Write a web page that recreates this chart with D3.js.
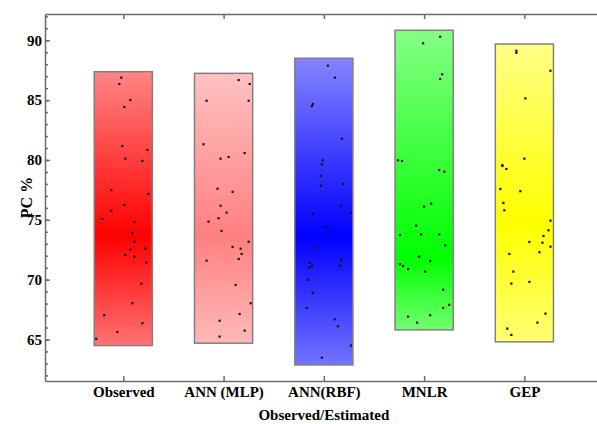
<!DOCTYPE html>
<html lang="en">
<head>
<meta charset="UTF-8">
<title>PC % observed vs estimated</title>
<script src="https://d3js.org/d3.v7.min.js"></script>
<style>
    body { margin: 0; background: #fff; }
    svg { display: block; }
    .axis path, .axis line { stroke: #6b6b6b; stroke-width: 1.5; fill: none; }
</style>
</head>
<body>
<svg width="597" height="424"></svg>
<script>
// categories and the range box drawn for each
const categories = ["Observed", "ANN (MLP)", "ANN(RBF)", "MNLR", "GEP"];
const rangeLow  = [64.49, 64.69, 62.87, 65.80, 64.80];
const rangeHigh = [87.38, 87.24, 88.50, 90.84, 89.69];

// PC % values, with horizontal jitter (in category units)
const pcObserved = [86.88, 86.35, 85.01, 84.43, 81.17, 80.84, 80.11, 79.92, 77.49, 77.16, 76.24, 75.76, 75.07, 74.82, 73.90, 73.17, 72.51, 72.59, 72.06, 71.92, 71.42, 69.67, 68.03, 67.03, 66.36, 65.63, 65.05];
const jitObserved = [-0.02, -0.04, 0.07, 0.01, -0.01, 0.24, 0.02, 0.19, -0.12, 0.25, 0.01, -0.12, -0.21, 0.11, 0.09, 0.11, 0.07, 0.22, 0.02, 0.11, 0.23, 0.18, 0.09, -0.19, 0.19, -0.06, -0.27];

const pcMLP = [86.68, 86.35, 84.95, 84.95, 81.31, 80.58, 80.25, 80.11, 77.60, 77.33, 76.18, 75.60, 75.13, 74.85, 74.07, 73.17, 72.73, 72.59, 72.15, 71.73, 71.59, 69.56, 68.03, 67.13, 66.57, 65.74, 65.24];
const jitMLP = [0.15, 0.26, -0.17, 0.25, -0.20, 0.21, 0.05, -0.03, -0.06, 0.09, -0.03, 0.03, -0.05, -0.15, -0.02, 0.25, 0.09, 0.17, 0.18, 0.15, -0.17, 0.12, 0.27, 0.16, -0.04, 0.21, -0.04];

const pcRBF = [87.88, 86.88, 84.68, 84.51, 81.78, 79.97, 79.64, 78.66, 77.99, 77.85, 76.18, 75.60, 75.51, 74.40, 72.65, 71.62, 71.42, 71.17, 71.14, 71.00, 70.00, 68.89, 67.64, 66.69, 66.11, 64.49, 63.48];
const jitRBF = [0.04, 0.11, -0.11, -0.12, 0.18, -0.01, -0.02, -0.03, 0.19, -0.03, 0.17, 0.27, -0.11, 0.02, -0.09, 0.17, -0.14, 0.16, -0.12, -0.15, -0.16, -0.11, -0.17, 0.11, 0.14, 0.27, -0.02];

const pcMNLR = [90.30, 89.75, 87.16, 86.77, 79.97, 79.92, 79.16, 79.02, 76.35, 76.10, 74.51, 73.73, 73.79, 73.79, 72.87, 71.92, 71.56, 71.29, 71.14, 70.89, 70.67, 69.16, 67.89, 67.64, 67.03, 66.91, 66.41];
const jitMNLR = [0.16, -0.01, 0.18, 0.16, -0.26, -0.22, 0.15, 0.20, 0.07, 0.00, -0.08, -0.24, -0.03, 0.15, 0.21, -0.05, 0.06, -0.24, -0.21, -0.16, 0.01, 0.19, 0.25, 0.19, 0.06, -0.16, -0.07];

const pcGEP = [89.13, 88.96, 87.46, 85.15, 80.11, 79.56, 79.50, 79.25, 77.58, 77.39, 76.41, 75.80, 74.93, 74.13, 73.65, 73.15, 73.09, 72.76, 72.29, 72.15, 70.67, 69.67, 69.81, 67.16, 66.41, 65.91, 65.38];
const jitGEP = [-0.08, -0.08, 0.26, 0.01, 0.00, -0.22, -0.22, -0.18, -0.24, -0.04, -0.21, -0.20, 0.26, 0.24, 0.19, 0.05, 0.18, 0.26, 0.15, -0.15, -0.11, -0.13, 0.05, 0.21, 0.13, -0.17, -0.13];

const yTicks = [65, 70, 75, 80, 85, 90];

// styling
const colors = ["#ff0000", "#ff8080", "#0000ff", "#00ff00", "#ffff00"];
const gradPeak = [0.6, 0.6, 0.58, 0.76, 0.6];
const boxHalf = 0.29;
const serif = '"Liberation Serif", "Times New Roman", serif';

const values = [pcObserved, pcMLP, pcRBF, pcMNLR, pcGEP];
const jitters = [jitObserved, jitMLP, jitRBF, jitMNLR, jitGEP];

const svg = d3.select("svg");
const plotL = 45, plotR = 602.7, plotT = 14, plotB = 381;

const x = d3.scaleLinear().domain([0.219, 5.781]).range([plotL, plotR]);
const y = d3.scaleLinear().domain([61.53, 92.2]).range([plotB, plotT]);

// gradients: pale at the ends, full colour near the middle
const defs = svg.append("defs");
colors.forEach((c, i) => {
    const g = defs.append("linearGradient")
        .attr("id", "grad" + i)
        .attr("x1", 0).attr("y1", 0).attr("x2", 0).attr("y2", 1);
    g.append("stop").attr("offset", 0).attr("stop-color", d3.interpolateRgb(c, "#fff")(0.52));
    g.append("stop").attr("offset", gradPeak[i]).attr("stop-color", c);
    g.append("stop").attr("offset", 1).attr("stop-color", d3.interpolateRgb(c, "#fff")(0.45));
});

// boxes
svg.selectAll(".box")
    .data(categories)
    .enter().append("rect")
    .attr("class", "box")
    .attr("x", (d, i) => x(i + 1 - boxHalf))
    .attr("y", (d, i) => y(rangeHigh[i]))
    .attr("width", (d, i) => x(i + 1 + boxHalf) - x(i + 1 - boxHalf))
    .attr("height", (d, i) => y(rangeLow[i]) - y(rangeHigh[i]))
    .attr("fill", (d, i) => "url(#grad" + i + ")")
    .attr("stroke", "#808080")
    .attr("stroke-width", 1.5);

// points
const pts = [];
values.forEach((arr, i) => arr.forEach((v, k) => pts.push({ cx: i + 1 + jitters[i][k], v: v })));
svg.selectAll(".pt")
    .data(pts)
    .enter().append("rect")
    .attr("class", "pt")
    .attr("x", d => x(d.cx) - 1.1)
    .attr("y", d => y(d.v) - 1.1)
    .attr("width", 2.2)
    .attr("height", 2.2)
    .attr("fill", "#111");

// minor y ticks
svg.append("g")
    .attr("class", "axis")
    .attr("transform", "translate(" + plotL + ",0)")
    .call(d3.axisLeft(y).tickValues(d3.range(62, 93)).tickSize(-3).tickFormat(""))
    .call(g => g.select(".domain").remove());

// y axis
svg.append("g")
    .attr("class", "axis")
    .attr("transform", "translate(" + plotL + ",0)")
    .call(d3.axisLeft(y).tickValues(yTicks).tickSizeInner(-5).tickSizeOuter(0).tickPadding(3));

// bottom axis
svg.append("g")
    .attr("class", "axis")
    .attr("transform", "translate(0," + plotB + ")")
    .call(d3.axisBottom(x).tickValues([1, 2, 3, 4, 5]).tickSizeInner(-5).tickSizeOuter(0)
        .tickPadding(5).tickFormat(d => categories[d - 1]));

// top axis (no labels)
svg.append("g")
    .attr("class", "axis")
    .attr("transform", "translate(0," + plotT + ")")
    .call(d3.axisTop(x).tickValues([1, 2, 3, 4, 5]).tickSizeInner(-5).tickSizeOuter(0).tickFormat(""));

svg.selectAll(".axis text")
    .style("font-family", serif)
    .style("font-weight", "bold")
    .style("font-size", "15px")
    .style("fill", "#000");

// titles
svg.append("text")
    .attr("transform", "rotate(-90)")
    .attr("x", -(plotT + plotB) / 2)
    .attr("y", 31.5)
    .attr("text-anchor", "middle")
    .style("font-family", serif)
    .style("font-weight", "bold")
    .style("font-size", "16px")
    .text("PC %");

svg.append("text")
    .attr("x", (plotL + plotR) / 2)
    .attr("y", 420)
    .attr("text-anchor", "middle")
    .style("font-family", serif)
    .style("font-weight", "bold")
    .style("font-size", "15px")
    .text("Observed/Estimated");
</script>
</body>
</html>
